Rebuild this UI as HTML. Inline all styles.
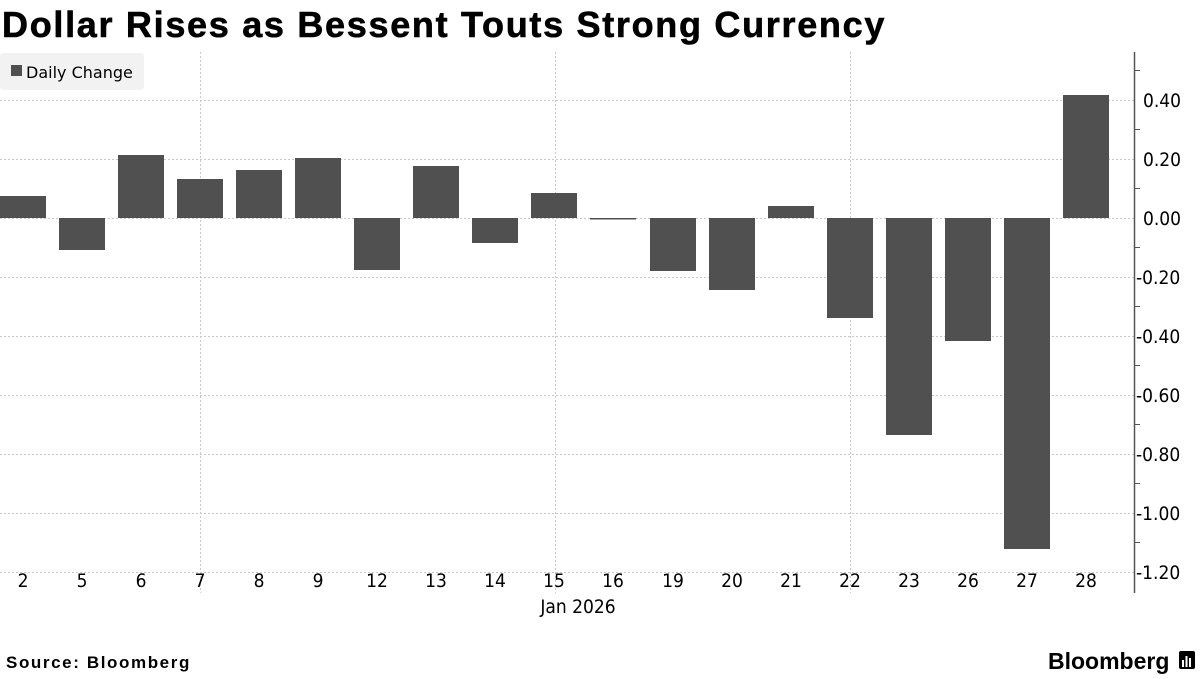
<!DOCTYPE html>
<html><head><meta charset="utf-8"><style>
body{margin:0;background:#fff;width:1200px;height:675px;overflow:hidden;font-family:"DejaVu Sans","Liberation Sans",sans-serif}
</style></head><body>
<svg width="1200" height="675" xmlns="http://www.w3.org/2000/svg">
<text x="2" y="37" font-family="Liberation Sans,sans-serif" font-weight="bold" font-size="36" fill="#000" letter-spacing="1.7" stroke="#000" stroke-width="0.6">Dollar Rises as Bessent Touts Strong Currency</text>
<g stroke="#c8c8c8" stroke-width="1" stroke-dasharray="2,2">
<line x1="0" x2="1134" y1="100.5" y2="100.5"/>
<line x1="0" x2="1134" y1="159.5" y2="159.5"/>
<line x1="0" x2="1134" y1="218.5" y2="218.5"/>
<line x1="0" x2="1134" y1="277.5" y2="277.5"/>
<line x1="0" x2="1134" y1="336.5" y2="336.5"/>
<line x1="0" x2="1134" y1="395.5" y2="395.5"/>
<line x1="0" x2="1134" y1="454.5" y2="454.5"/>
<line x1="0" x2="1134" y1="513.5" y2="513.5"/>
<line x1="0" x2="1134" y1="572.5" y2="572.5"/>
<line x1="200.5" x2="200.5" y1="52" y2="593"/>
<line x1="555.5" x2="555.5" y1="52" y2="593"/>
<line x1="850.5" x2="850.5" y1="52" y2="593"/>
</g>
<rect x="0" y="53" width="144" height="37" rx="3" fill="#f2f2f2"/>
<rect x="11" y="65" width="11" height="11" fill="#505050"/>
<text x="26" y="78" font-size="16" fill="#000">Daily Change</text>
<g fill="#505050">
<rect x="0" y="196" width="46" height="22"/>
<rect x="59" y="218" width="46" height="32"/>
<rect x="118" y="155" width="46" height="63"/>
<rect x="177" y="179" width="46" height="39"/>
<rect x="236" y="170" width="46" height="48"/>
<rect x="295" y="158" width="46" height="60"/>
<rect x="354" y="218" width="46" height="52"/>
<rect x="413" y="166" width="46" height="52"/>
<rect x="472" y="218" width="46" height="25"/>
<rect x="531" y="193" width="46" height="25"/>
<rect x="590" y="218" width="46" height="1.5"/>
<rect x="650" y="218" width="46" height="53"/>
<rect x="709" y="218" width="46" height="72"/>
<rect x="768" y="206" width="46" height="12"/>
<rect x="827" y="218" width="46" height="100"/>
<rect x="886" y="218" width="46" height="217"/>
<rect x="945" y="218" width="46" height="123"/>
<rect x="1004" y="218" width="46" height="331"/>
<rect x="1063" y="95" width="46" height="123"/>
</g>
<line x1="1134.5" x2="1134.5" y1="52" y2="593" stroke="#555" stroke-width="1.5"/>
<g stroke="#555" stroke-width="1">
<line x1="1134" x2="1140" y1="70.5" y2="70.5"/><line x1="1134" x2="1140" y1="129.5" y2="129.5"/><line x1="1134" x2="1140" y1="188.5" y2="188.5"/><line x1="1134" x2="1140" y1="247.5" y2="247.5"/><line x1="1134" x2="1140" y1="306.5" y2="306.5"/><line x1="1134" x2="1140" y1="365.5" y2="365.5"/><line x1="1134" x2="1140" y1="424.5" y2="424.5"/><line x1="1134" x2="1140" y1="483.5" y2="483.5"/><line x1="1134" x2="1140" y1="542.5" y2="542.5"/>
</g>
<g font-size="19" fill="#000" font-family="DejaVu Sans Condensed,DejaVu Sans,sans-serif">
<text x="1143" y="107">0.40</text>
<text x="1143" y="166">0.20</text>
<text x="1143" y="225">0.00</text>
<text x="1136" y="284">-0.20</text>
<text x="1136" y="343">-0.40</text>
<text x="1136" y="402">-0.60</text>
<text x="1136" y="461">-0.80</text>
<text x="1136" y="520">-1.00</text>
<text x="1136" y="579">-1.20</text>
</g>
<g font-size="19" fill="#000" text-anchor="middle" font-family="DejaVu Sans Condensed,DejaVu Sans,sans-serif">
<text x="23" y="587">2</text><text x="82" y="587">5</text><text x="141" y="587">6</text><text x="200" y="587">7</text><text x="259" y="587">8</text><text x="318" y="587">9</text><text x="377" y="587">12</text><text x="436" y="587">13</text><text x="495" y="587">14</text><text x="554" y="587">15</text><text x="613" y="587">16</text><text x="673" y="587">19</text><text x="732" y="587">20</text><text x="791" y="587">21</text><text x="850" y="587">22</text><text x="909" y="587">23</text><text x="968" y="587">26</text><text x="1027" y="587">27</text><text x="1086" y="587">28</text>
<text x="578" y="613">Jan 2026</text>
</g>
<text x="6" y="668" font-family="Liberation Sans,sans-serif" font-weight="bold" font-size="17" fill="#000" letter-spacing="1.6">Source: Bloomberg</text>
<text x="1048" y="669" font-family="Liberation Sans,sans-serif" font-weight="bold" font-size="23" fill="#000">Bloomberg</text>
<rect x="1179" y="651" width="16" height="18" rx="2" fill="#000"/>
<g fill="#fff"><rect x="1182" y="660" width="2" height="7"/><rect x="1185.5" y="656" width="2" height="11"/><rect x="1189" y="658" width="2" height="9"/></g>
</svg>
</body></html>
